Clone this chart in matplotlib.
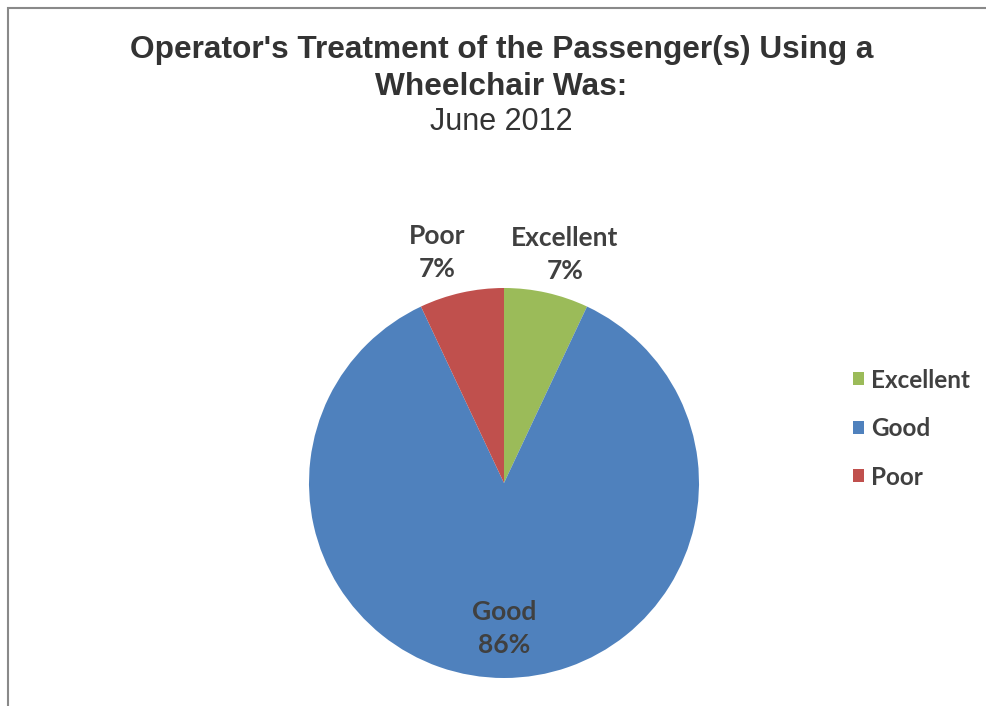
import matplotlib.pyplot as plt
from matplotlib.patches import Rectangle

# data
categories = ["Excellent", "Good", "Poor"]
shares = [7, 86, 7]
colors = ["#9BBB59", "#4F81BD", "#C0504D"]

# label positions relative to pie centre (radius = 1)
label_pos = [(0.313, 1.17), (0.0, -0.745), (-0.344, 1.18)]

fig = plt.figure(figsize=(9.87, 7.06), dpi=100)

# outer frame like the spreadsheet chart area
fig.patches.append(Rectangle((8 / 987, -0.1), 2.0, (706 - 8) / 706 + 0.1,
                             transform=fig.transFigure, fill=False,
                             edgecolor="#898989", linewidth=1.5))

fig.text(0.508, 0.929, "Operator's Treatment of the Passenger(s) Using a",
         ha="center", va="center", fontsize=22.8, fontweight="bold",
         family="Liberation Sans", color="#333333")
fig.text(0.508, 0.877, "Wheelchair Was:",
         ha="center", va="center", fontsize=22.8, fontweight="bold",
         family="Liberation Sans", color="#333333")
fig.text(0.508, 0.827, "June 2012", ha="center", va="center", fontsize=22,
         family="Liberation Sans", color="#333333")

ax = fig.add_axes([309 / 987, 28 / 706, 390 / 987, 390 / 706])
wedges, _ = ax.pie(shares, colors=colors, startangle=90, counterclock=False,
                   radius=1, wedgeprops=dict(linewidth=0))
ax.set_xlim(-1, 1)
ax.set_ylim(-1, 1)
ax.set_aspect("equal")

for name, val, (x, y) in zip(categories, shares, label_pos):
    ax.text(x, y, "{}\n{}%".format(name, val), ha="center", va="center",
            fontsize=19, fontweight="bold", family="Lato", color="#404040",
            linespacing=1.45, clip_on=False)

leg = fig.legend(wedges, categories, loc="center left",
                 bbox_to_anchor=(0.852, 0.393), frameon=False,
                 prop=dict(family="Lato", weight="bold", size=17.5),
                 handlelength=0.45, handleheight=0.45, handletextpad=0.3,
                 labelspacing=1.05, borderpad=0)
for t in leg.get_texts():
    t.set_color("#404040")

plt.savefig("out.png", dpi=100)
